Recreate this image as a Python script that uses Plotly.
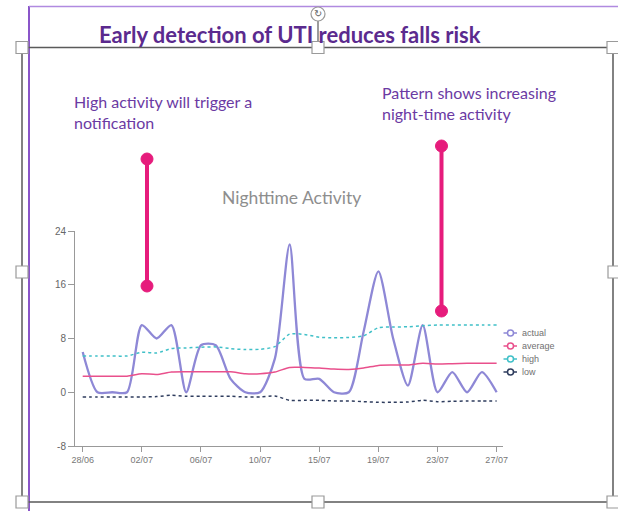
import plotly.graph_objects as go

# ---------------- data ----------------
dates = ['28/06', '29/06', '30/06', '01/07', '02/07', '03/07', '04/07', '05/07',
         '06/07', '07/07', '08/07', '09/07', '10/07', '11/07', '12/07', '13/07',
         '15/07', '16/07', '17/07', '18/07', '19/07', '20/07', '21/07', '22/07',
         '23/07', '24/07', '25/07', '26/07', '27/07']
actual = [6, 0, 0, 0, 10, 8, 10, 0, 7, 7, 2, 0, 0, 5, 22, 2, 2, 0, 0, 9, 18, 8, 1, 10, 0, 3, 0, 3, 0]
average = [2.4, 2.4, 2.4, 2.4, 2.75, 2.65, 3.0, 3.05, 3.05, 3.05, 3.05, 2.75, 2.75, 3.0, 3.7, 3.7,
           3.6, 3.45, 3.4, 3.6, 4.0, 4.05, 4.05, 4.3, 4.2, 4.25, 4.3, 4.3, 4.3]
high = [5.4, 5.4, 5.4, 5.4, 5.95, 5.85, 6.5, 6.6, 6.7, 6.75, 6.5, 6.35, 6.4, 6.8, 8.65, 8.6,
        8.2, 8.1, 8.15, 8.4, 9.6, 9.7, 9.75, 9.9, 10.0, 10.0, 10.0, 10.0, 10.0]
low = [-0.7, -0.7, -0.7, -0.7, -0.7, -0.65, -0.45, -0.6, -0.6, -0.6, -0.6, -0.7, -0.7, -0.55, -1.2, -1.2,
       -1.2, -1.3, -1.3, -1.4, -1.5, -1.5, -1.45, -1.2, -1.4, -1.35, -1.3, -1.3, -1.3]
x_tick_labels = ['28/06', '02/07', '06/07', '10/07', '15/07', '19/07', '23/07', '27/07']
y_tick_values = [-8, 0, 8, 16, 24]
y_tick_labels = ['-8', '0', '8', '16', '24']
series_names = ['actual', 'average', 'high', 'low']
series_values = [actual, average, high, low]
series_colors = ['#8e88d6', '#e9508c', '#40c0c8', '#2f3d5e']
series_dash = ['solid', 'solid', '3px,3px', '3px,3px']
series_width = [2.3, 1.5, 1.5, 1.5]

title_text = 'Early detection of UTI reduces falls risk'
note_left = ['High activity will trigger a', 'notification']
note_right = ['Pattern shows increasing', 'night-time activity']
chart_title = 'Nighttime Activity'

# ---------------- layout helpers ----------------
W, H = 618, 511
L, R, T, B = 75, 503, 231, 446


def px(x):
    return (x - L) / (R - L)


def py(y):
    return (B - y) / (B - T)


fig = go.Figure()
for name, vals, col, dash, w in zip(series_names, series_values, series_colors, series_dash, series_width):
    fig.add_trace(go.Scatter(
        x=dates, y=vals, name=name, mode='lines',
        line=dict(color=col, width=w, dash=dash, shape='spline', smoothing=0.7),
        showlegend=False, hoverinfo='x+y+name'))

shapes = []
annotations = []

# slide border (purple)
shapes.append(dict(type='line', xref='paper', yref='paper', x0=px(29), x1=px(29), y0=py(6), y1=py(515),
                   line=dict(color='#8a55c9', width=2)))
shapes.append(dict(type='line', xref='paper', yref='paper', x0=px(29), x1=px(620), y0=py(6.5), y1=py(6.5),
                   line=dict(color='#b08ae0', width=1.5)))

# selection frame
frame_col = '#5a5a5a'
shapes.append(dict(type='rect', xref='paper', yref='paper', x0=px(22), x1=px(613), y0=py(47.5), y1=py(502),
                   line=dict(color=frame_col, width=1.5)))
# rotation handle stem
shapes.append(dict(type='line', xref='paper', yref='paper', x0=px(318), x1=px(318), y0=py(21), y1=py(47),
                   line=dict(color=frame_col, width=1.2)))
shapes.append(dict(type='circle', xref='paper', yref='paper', x0=px(311), x1=px(325), y0=py(7), y1=py(21),
                   line=dict(color='#999999', width=1.2), fillcolor='white'))
annotations.append(dict(x=px(318), y=py(14), xref='paper', yref='paper', text='↻', showarrow=False,
                        font=dict(family='DejaVu Sans', size=10, color='#666666'),
                        xanchor='center', yanchor='middle'))
for hx, hy in [(22, 47.5), (318, 47.5), (613, 47.5), (22, 272), (614, 272), (22, 502), (318, 502), (613, 502)]:
    shapes.append(dict(type='rect', xref='paper', yref='paper', x0=px(hx - 6), x1=px(hx + 6),
                       y0=py(hy - 6), y1=py(hy + 6), line=dict(color='#9a9a9a', width=1.2), fillcolor='white'))

# lollipop callouts
pink = '#e61c7c'
for cx, ytop, ybot in [(147, 159, 286), (441.5, 146, 311)]:
    shapes.append(dict(type='line', xref='paper', yref='paper', x0=px(cx), x1=px(cx), y0=py(ytop), y1=py(ybot),
                       line=dict(color=pink, width=4)))
    for cy in (ytop, ybot):
        shapes.append(dict(type='circle', xref='paper', yref='paper', x0=px(cx - 6), x1=px(cx + 6),
                           y0=py(cy - 6), y1=py(cy + 6), line=dict(color=pink, width=1), fillcolor=pink))

# legend (drawn compactly like the original)
leg_y = [333, 346, 359, 372]
for name, col, ly in zip(series_names, series_colors, leg_y):
    shapes.append(dict(type='line', xref='paper', yref='paper', x0=px(503.5), x1=px(517), y0=py(ly), y1=py(ly),
                       line=dict(color=col, width=1.5)))
    shapes.append(dict(type='circle', xref='paper', yref='paper', x0=px(507.5), x1=px(513.5),
                       y0=py(ly - 3), y1=py(ly + 3), line=dict(color=col, width=1.5), fillcolor='white'))
    annotations.append(dict(x=px(520), y=py(ly), xref='paper', yref='paper', text=name, showarrow=False,
                            font=dict(family='Liberation Sans', size=9, color='#707070'),
                            xanchor='left', yanchor='middle'))

# texts
purple_title = '#5b2a8e'
purple_note = '#6b3aa3'
annotations.append(dict(x=px(289.5), y=py(34), xref='paper', yref='paper', text='<b>' + title_text + '</b>',
                        showarrow=False, font=dict(family='Lato', size=22, color=purple_title),
                        xanchor='center', yanchor='middle'))
for i, line in enumerate(note_left):
    annotations.append(dict(x=px(72), y=py(101 + 21 * i), xref='paper', yref='paper', text=line,
                            showarrow=False, font=dict(family='Lato', size=16, color=purple_note),
                            xanchor='left', yanchor='middle'))
for i, line in enumerate(note_right):
    annotations.append(dict(x=px(380), y=py(92 + 21 * i), xref='paper', yref='paper', text=line,
                            showarrow=False, font=dict(family='Lato', size=16, color=purple_note),
                            xanchor='left', yanchor='middle'))
annotations.append(dict(x=px(291), y=py(198), xref='paper', yref='paper', text=chart_title,
                        showarrow=False, font=dict(family='Lato', size=17.5, color='#8e8e8e'),
                        xanchor='center', yanchor='middle'))

fig.update_layout(
    width=W, height=H, autosize=False,
    margin=dict(l=L, r=W - R, t=T, b=H - B, pad=0),
    paper_bgcolor='white', plot_bgcolor='white',
    showlegend=False,
    shapes=shapes, annotations=annotations,
    xaxis=dict(type='category', range=[-0.52, len(dates) - 1 + 0.43],
               tickmode='array', tickvals=x_tick_labels, ticktext=x_tick_labels,
               showline=True, linecolor='#999999', linewidth=1,
               ticks='outside', ticklen=5, tickcolor='#999999', tickwidth=1,
               showgrid=False, zeroline=False,
               tickfont=dict(family='Liberation Sans', size=9, color='#777777')),
    yaxis=dict(range=[-8, 24], tickmode='array', tickvals=y_tick_values, ticktext=y_tick_labels,
               showline=True, linecolor='#999999', linewidth=1,
               ticks='outside', ticklen=6, tickcolor='#999999', tickwidth=1,
               showgrid=False, zeroline=False,
               tickfont=dict(family='Liberation Sans', size=10, color='#666666')),
)

fig.write_html('out.html', config={'displayModeBar': False},
               post_script="document.body.style.margin='0';document.body.style.overflow='hidden';")
